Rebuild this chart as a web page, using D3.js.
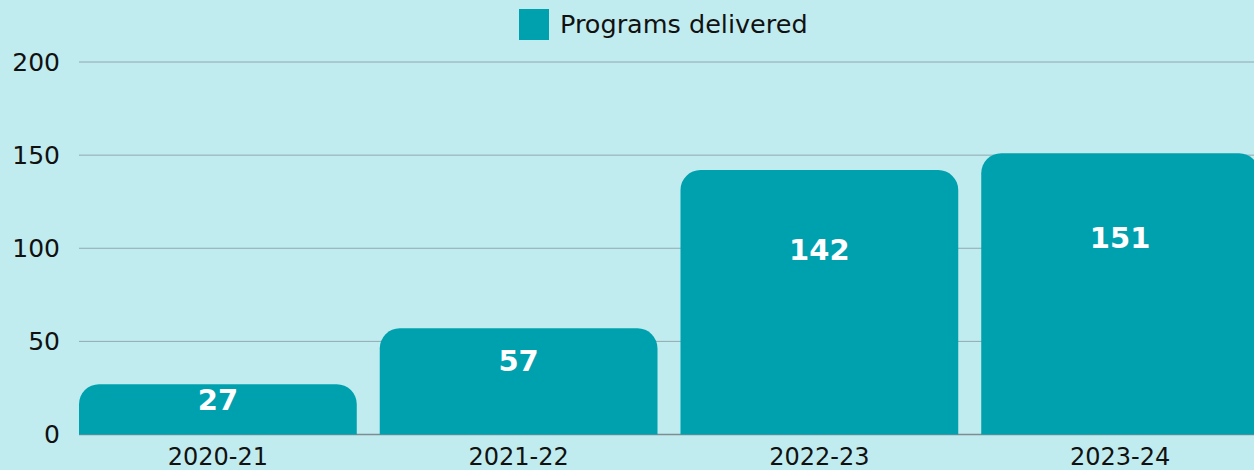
<!DOCTYPE html>
<html>
<head>
<meta charset="utf-8">
<script src="https://cdn.jsdelivr.net/npm/d3@7"></script>
<style>
  body { margin: 0; background: #c1ecef; }
  svg { display: block; font-family: "DejaVu Sans", sans-serif; }
</style>
</head>
<body>
<div id="chart"></div>
<script>
// chart data
var years = ["2020-21", "2021-22", "2022-23", "2023-24"];
var programs = [27, 57, 142, 151];
var yTicks = [0, 50, 100, 150, 200];
var seriesName = "Programs delivered";

function init() {
    var w = 1254;
    var h = 470;
    var left = 79;
    var top = 62;
    var bottom = 434.5;
    var barColor = "#00a1af";

    var svg = d3.select("#chart")
        .append("svg")
        .attr("width", w)
        .attr("height", h);

    svg.append("rect")
        .attr("width", w)
        .attr("height", h)
        .attr("fill", "#c1ecef");

    var xScale = d3.scaleBand()
        .domain(years)
        .range([left, 1259])
        .paddingInner(0.0764)
        .paddingOuter(0);

    var yScale = d3.scaleLinear()
        .domain([0, 200])
        .range([bottom, top]);

    // gridlines
    svg.append("g")
        .selectAll("line")
        .data(yTicks.filter(function(t) { return t > 0; }))
        .enter()
        .append("line")
        .attr("x1", left)
        .attr("x2", w)
        .attr("y1", function(d) { return yScale(d); })
        .attr("y2", function(d) { return yScale(d); })
        .attr("stroke", "#8fa8b0")
        .attr("stroke-width", 1);

    // y axis labels
    var yAxis = d3.axisLeft(yScale)
        .tickValues(yTicks)
        .tickSize(0)
        .tickPadding(19);
    var gy = svg.append("g")
        .attr("transform", "translate(" + left + ",0)")
        .call(yAxis);
    gy.select(".domain").remove();
    gy.selectAll("text")
        .attr("font-size", 25)
        .attr("font-family", "DejaVu Sans")
        .attr("fill", "#111");

    // baseline
    svg.append("line")
        .attr("x1", left)
        .attr("x2", w)
        .attr("y1", bottom)
        .attr("y2", bottom)
        .attr("stroke", "#7d8d92")
        .attr("stroke-width", 1.5);

    // bars with rounded tops
    var r = 20;
    function barPath(d, i) {
        var x0 = xScale(years[i]);
        var x1 = x0 + xScale.bandwidth();
        var y0 = yScale(d);
        var y1 = yScale(0);
        return "M" + x0 + "," + y1 +
            "L" + x0 + "," + (y0 + r) +
            "A" + r + "," + r + " 0 0 1 " + (x0 + r) + "," + y0 +
            "L" + (x1 - r) + "," + y0 +
            "A" + r + "," + r + " 0 0 1 " + x1 + "," + (y0 + r) +
            "L" + x1 + "," + y1 + "Z";
    }

    svg.append("g")
        .selectAll("path")
        .data(programs)
        .enter()
        .append("path")
        .attr("d", barPath)
        .attr("fill", barColor);

    // value labels
    svg.append("g")
        .selectAll("text")
        .data(programs)
        .enter()
        .append("text")
        .attr("x", function(d, i) { return xScale(years[i]) + xScale.bandwidth() / 2; })
        .attr("y", function(d) { return yScale(d * 0.7); })
        .attr("dy", "0.36em")
        .attr("text-anchor", "middle")
        .attr("font-size", 29)
        .attr("font-weight", "bold")
        .attr("fill", "#fff")
        .text(function(d) { return d; });

    // x axis labels
    var xAxis = d3.axisBottom(xScale)
        .tickSize(0)
        .tickPadding(13);
    var gx = svg.append("g")
        .attr("transform", "translate(0," + bottom + ")")
        .call(xAxis);
    gx.select(".domain").remove();
    gx.selectAll("text")
        .attr("font-size", 24)
        .attr("font-family", "DejaVu Sans")
        .attr("fill", "#111");

    // legend
    var legend = svg.append("g")
        .attr("transform", "translate(519,9)");
    legend.append("rect")
        .attr("width", 30)
        .attr("height", 31)
        .attr("fill", barColor);
    legend.append("text")
        .attr("x", 41)
        .attr("y", 15)
        .attr("dy", "0.36em")
        .attr("font-size", 25.5)
        .attr("fill", "#111")
        .text(seriesName);
}

window.onload = init;
</script>
</body>
</html>
